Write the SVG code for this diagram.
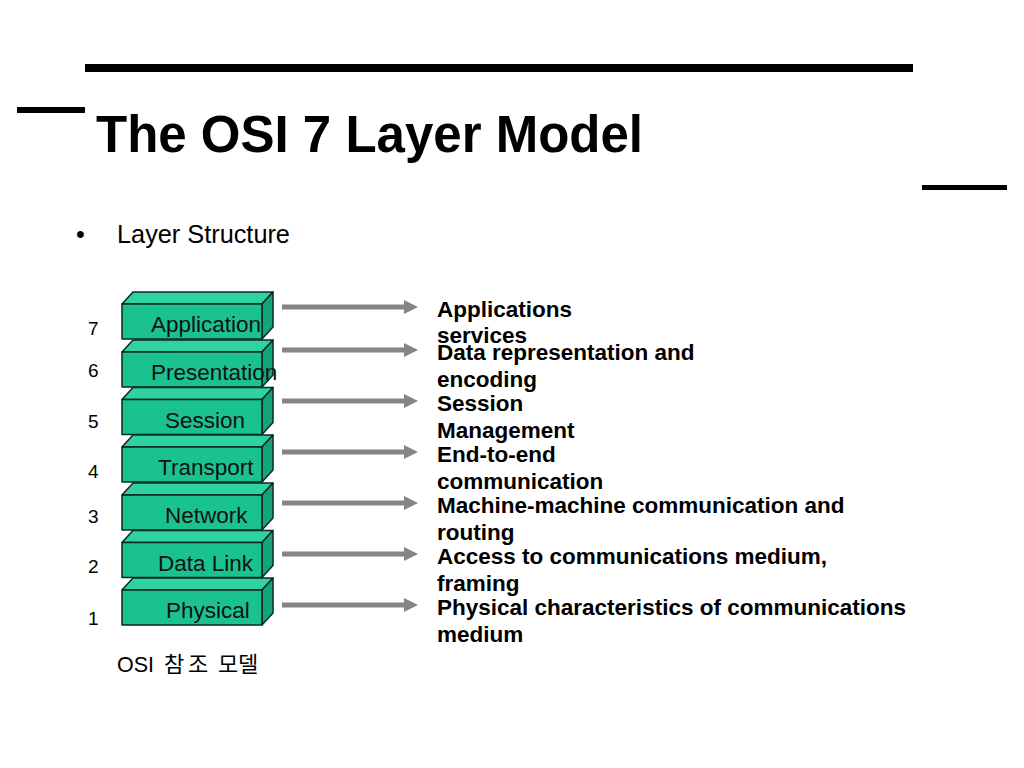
<svg xmlns="http://www.w3.org/2000/svg" width="1024" height="768" viewBox="0 0 1024 768">
<defs>
<style>
.rule{fill:#000}
.title{font-family:"Liberation Sans",Arial,sans-serif;font-weight:bold;font-size:51px;fill:#000}
.txt{font-family:"Liberation Sans",Arial,sans-serif;fill:#000}
.kr{font-family:"Liberation Sans","Noto Sans CJK KR",sans-serif;font-size:22px;fill:#000}
.num{font-family:"Liberation Sans",Arial,sans-serif;font-size:19px;fill:#000}
.lbl{font-family:"Liberation Sans",Arial,sans-serif;font-size:22.5px;fill:#111}
.desc{font-family:"Liberation Sans",Arial,sans-serif;font-weight:bold;font-size:22.5px;fill:#000}
.front{fill:#1ac290;stroke:#0b2a20;stroke-width:1.5;stroke-linejoin:round}
.top{fill:#30d2a2;stroke:#0b2a20;stroke-width:1.5;stroke-linejoin:round}
.side{fill:#14a47a;stroke:#0b2a20;stroke-width:1.5;stroke-linejoin:round}
.arrow{stroke:#858585;stroke-width:5;fill:none;marker-end:url(#ah)}
</style>
<marker id="ah" markerUnits="userSpaceOnUse" markerWidth="14" markerHeight="14" viewBox="0 0 14 14" refX="1" refY="7" orient="auto">
<path d="M0,0 L14,7 L0,14 z" fill="#858585"/>
</marker>
<g id="box">
<path class="top" d="M0,0 L11,-12 L151,-12 L140,0 z"/>
<path class="side" d="M140,0 L151,-12 L151,23 L140,35 z"/>
<rect class="front" x="0" y="0" width="140" height="35"/>
</g>
</defs>
<rect width="1024" height="768" fill="#fff"/>
<g id="header">
<rect class="rule" x="85" y="64" width="828" height="8"/>
<rect class="rule" x="17" y="107" width="68" height="6"/>
<rect class="rule" x="922" y="185" width="85" height="5"/>
<text class="title" x="96" y="152">The OSI 7 Layer Model</text>
<text class="txt" x="76" y="243" font-size="25">•</text>
<text class="txt" x="117" y="243" font-size="25.3">Layer Structure</text>
</g>
<g id="numbers">
<text class="num" x="88" y="335">7</text>
<text class="num" x="88" y="377">6</text>
<text class="num" x="88" y="428">5</text>
<text class="num" x="88" y="478">4</text>
<text class="num" x="88" y="523">3</text>
<text class="num" x="88" y="573">2</text>
<text class="num" x="88" y="625">1</text>
</g>
<g id="layer7"><use href="#box" x="122" y="304"/><text class="lbl" x="151" y="332">Application</text></g>
<g id="layer6"><use href="#box" x="122" y="352"/><text class="lbl" x="151" y="380">Presentation</text></g>
<g id="layer5"><use href="#box" x="122" y="399.5"/><text class="lbl" x="165" y="427.5">Session</text></g>
<g id="layer4"><use href="#box" x="122" y="447"/><text class="lbl" x="158" y="475">Transport</text></g>
<g id="layer3"><use href="#box" x="122" y="495"/><text class="lbl" x="165" y="523">Network</text></g>
<g id="layer2"><use href="#box" x="122" y="542.5"/><text class="lbl" x="158" y="570.5">Data Link</text></g>
<g id="layer1"><use href="#box" x="122" y="590"/><text class="lbl" x="166" y="618">Physical</text></g>
<g id="connectors">
<line class="arrow" x1="282" y1="307" x2="405" y2="307"/>
<line class="arrow" x1="282" y1="350" x2="405" y2="350"/>
<line class="arrow" x1="282" y1="401" x2="405" y2="401"/>
<line class="arrow" x1="282" y1="452" x2="405" y2="452"/>
<line class="arrow" x1="282" y1="503" x2="405" y2="503"/>
<line class="arrow" x1="282" y1="554" x2="405" y2="554"/>
<line class="arrow" x1="282" y1="605" x2="405" y2="605"/>
</g>
<g id="descriptions">
<text class="desc" x="437" y="317">Applications</text>
<text class="desc" x="437" y="343">services</text>
<text class="desc" x="437" y="360">Data representation and</text>
<text class="desc" x="437" y="387">encoding</text>
<text class="desc" x="437" y="411">Session</text>
<text class="desc" x="437" y="438">Management</text>
<text class="desc" x="437" y="462">End-to-end</text>
<text class="desc" x="437" y="489">communication</text>
<text class="desc" x="437" y="513">Machine-machine communication and</text>
<text class="desc" x="437" y="540">routing</text>
<text class="desc" x="437" y="564">Access to communications medium,</text>
<text class="desc" x="437" y="591">framing</text>
<text class="desc" x="437" y="615">Physical characteristics of communications</text>
<text class="desc" x="437" y="642">medium</text>
</g>
<text class="kr" y="672"><tspan x="117" font-size="21.5">OSI </tspan><tspan x="164">참</tspan><tspan x="188">조 </tspan><tspan x="218">모</tspan><tspan x="238">델</tspan></text>
</svg>
